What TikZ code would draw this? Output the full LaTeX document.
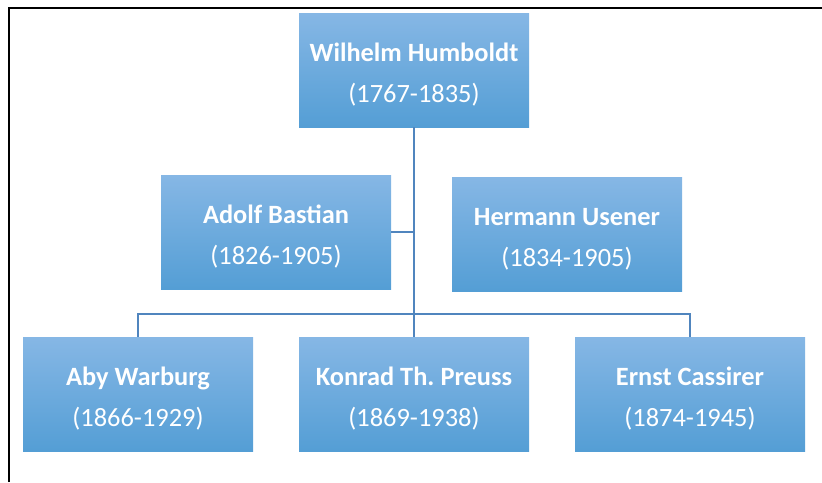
\documentclass[tikz,border=0pt]{standalone}
\usepackage{fontspec}
\setmainfont{Carlito}
\frenchspacing
\definecolor{boxtop}{RGB}{134,183,229}
\definecolor{boxbot}{RGB}{84,158,213}
\definecolor{linkc}{RGB}{80,133,190}
\tikzset{
  person/.style={top color=boxtop, bottom color=boxbot, draw=none,
    minimum width=230pt, minimum height=114pt, inner sep=0pt,
    text=white, align=center, font=\fontsize{26.4}{41}\selectfont},
  link/.style={draw=linkc, line width=1.2pt},
}
\newcommand{\pname}[2]{\rule{0pt}{28pt}\textbf{#1}\\#2}
\begin{document}
\begin{tikzpicture}[x=1pt,y=-1pt]
\useasboundingbox (0,0) rectangle (822,482);
\draw[line width=2pt] (9,482) -- (9,7.7) -- (822,7.7);
\node[person] (W) at (414,70) {\pname{Wilhelm Humboldt}{(1767-1835)}};
\node[person] (A) at (276,232) {\pname{Adolf Bastian}{(1826-1905)}};
\node[person] (H) at (567,234) {\pname{Hermann Usener}{(1834-1905)}};
\node[person] (B) at (138,394) {\pname{Aby Warburg}{(1866-1929)}};
\node[person] (K) at (414,394) {\pname{Konrad Th.\ Preuss}{(1869-1938)}};
\node[person] (E) at (690,394) {\pname{Ernst Cassirer}{(1874-1945)}};
\coordinate (bus) at (414,314);
\draw[link] (W.south) -- (K.north);
\draw[link] (A.east) -- (A.east -| W.south);
\draw[link] (B.north) |- (bus) -| (E.north);
\end{tikzpicture}
\end{document}
